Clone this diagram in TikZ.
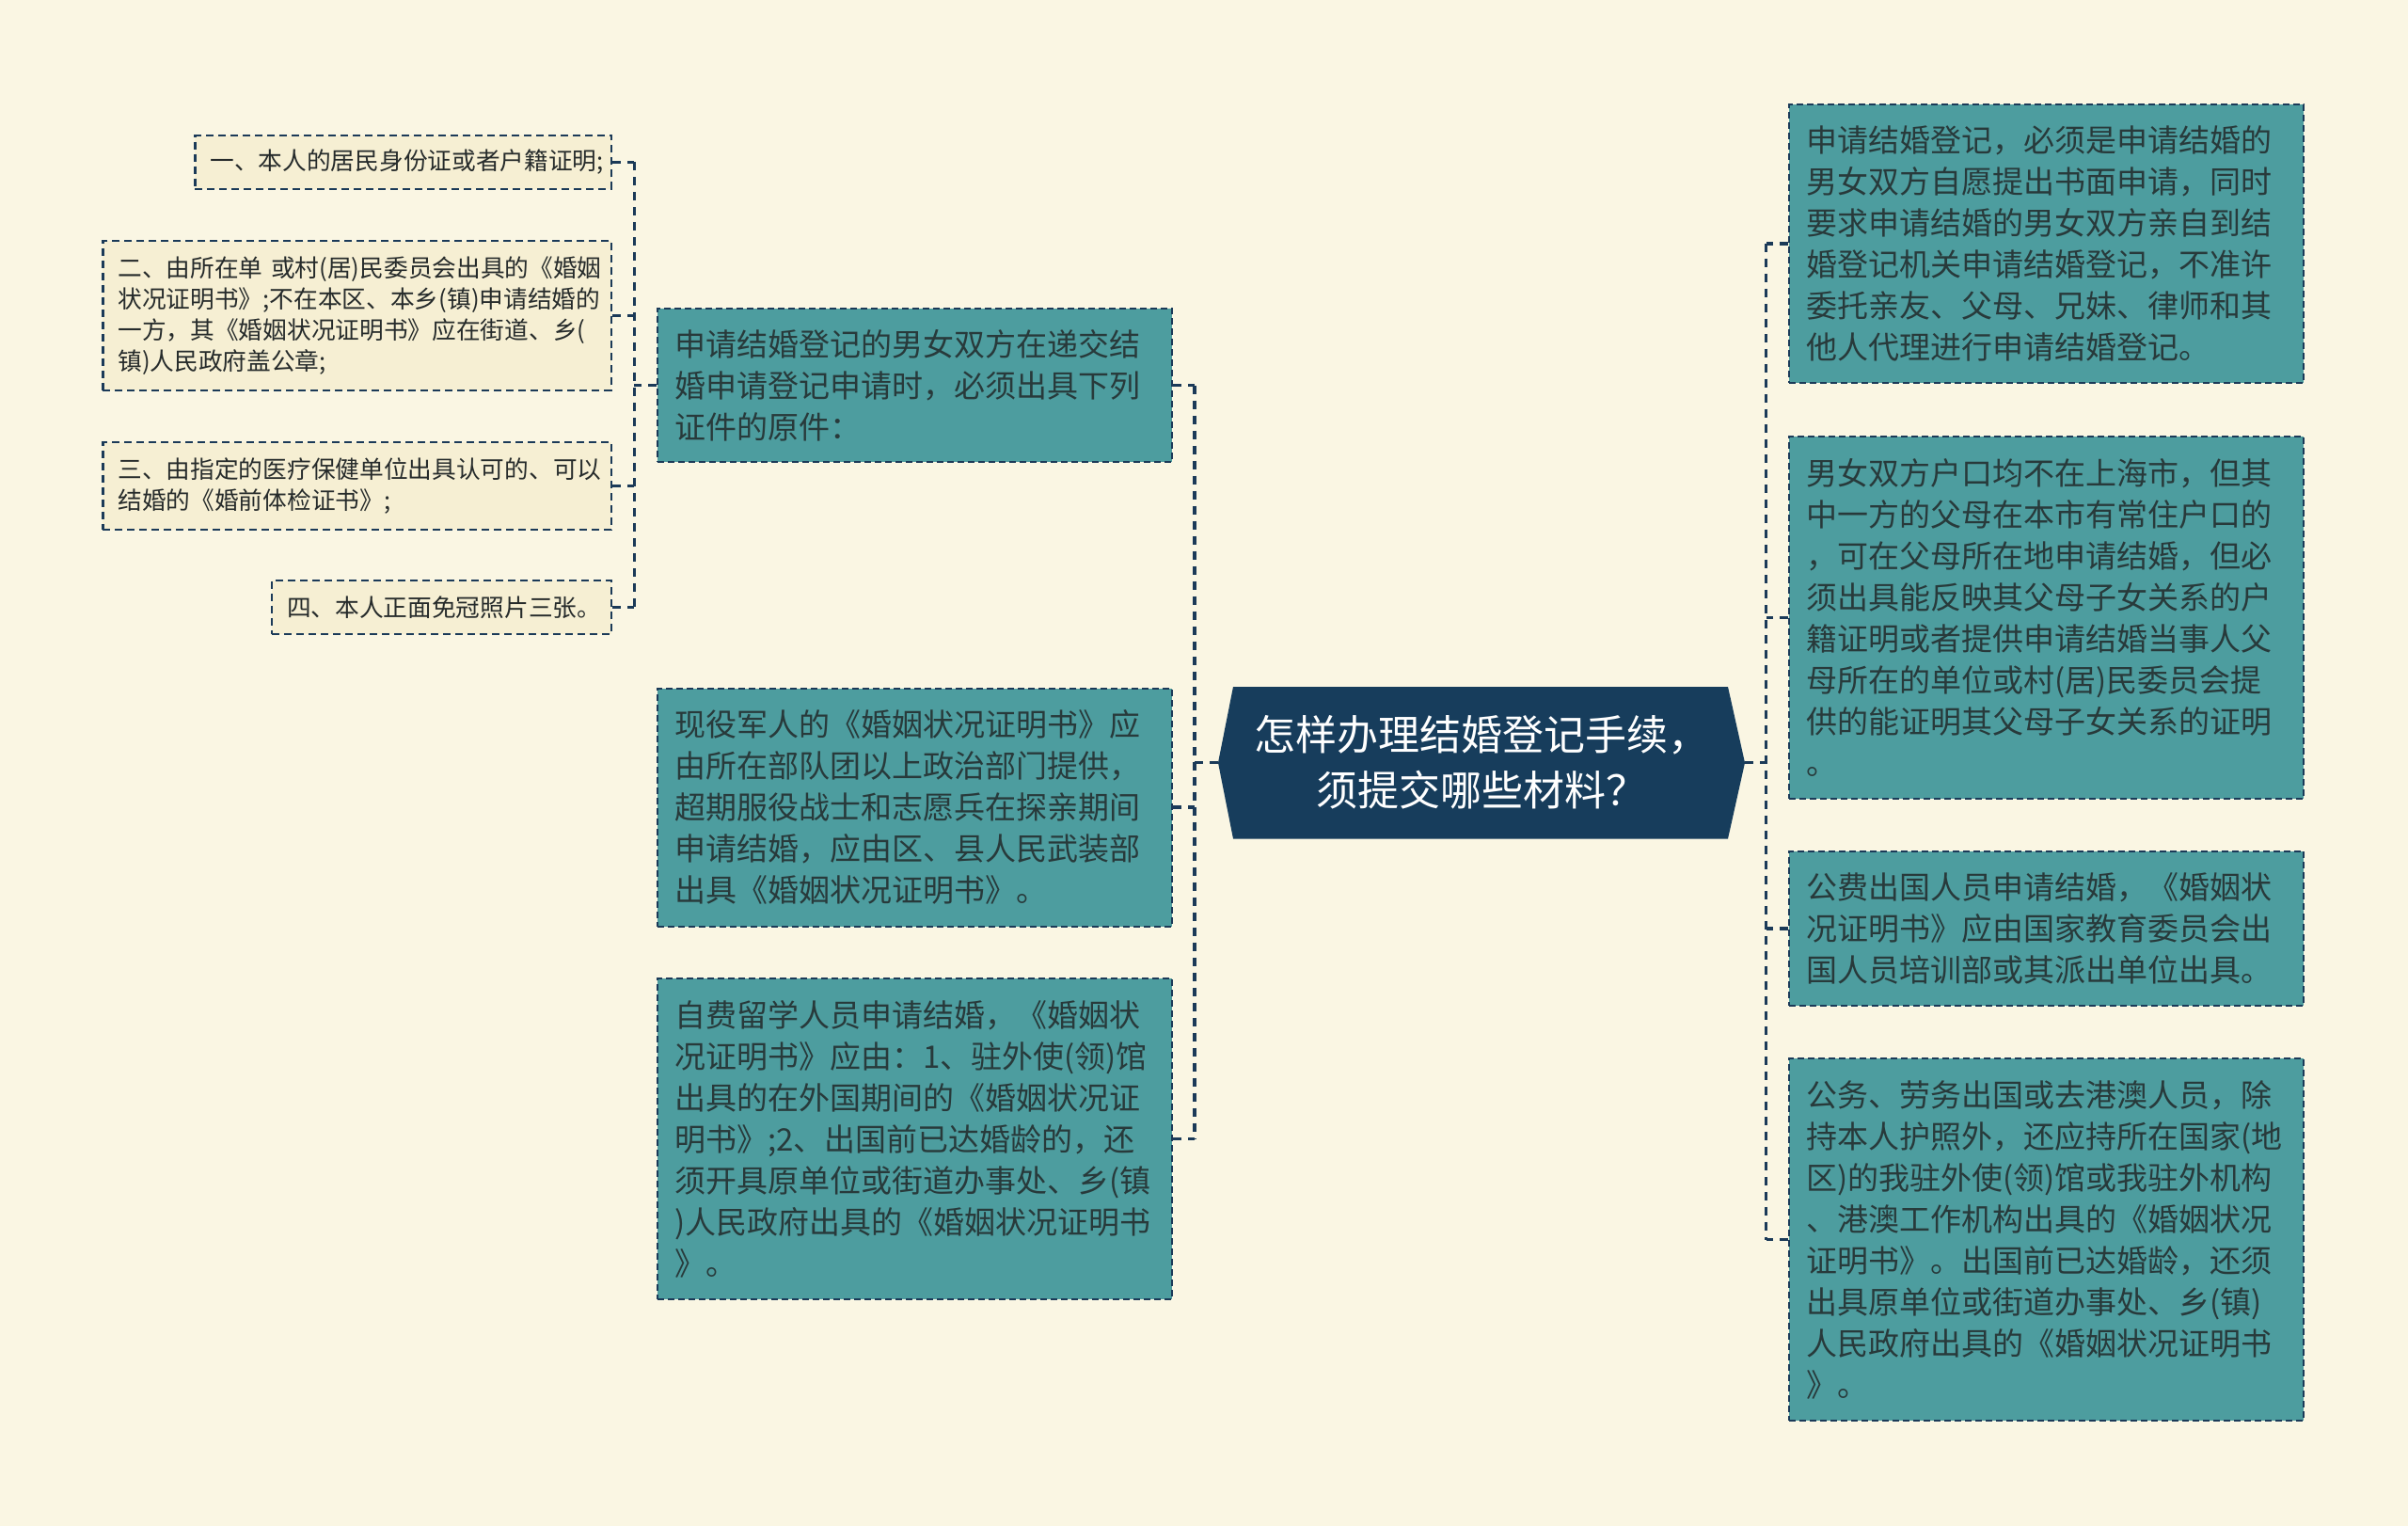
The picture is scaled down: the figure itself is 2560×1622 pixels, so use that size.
\documentclass[tikz,border=0pt]{standalone}
\usepackage{fontspec}
\setmainfont{Noto Sans CJK SC}
\usetikzlibrary{calc}
\definecolor{bgc}{HTML}{FAF6E3}
\definecolor{tealfill}{HTML}{4D9D9F}
\definecolor{tealtext}{HTML}{283A3B}
\definecolor{navyline}{HTML}{1B3A58}
\definecolor{navyfill}{HTML}{173D5C}
\definecolor{subfill}{HTML}{F6EFD3}
\definecolor{subtext}{HTML}{262B2B}
\tikzset{
  tealbox/.style={rectangle, fill=tealfill, draw=navyline, line width=2pt,
    dash pattern=on 7pt off 4pt, text=tealtext, align=left,
    inner xsep=18pt, inner ysep=0pt,
    font=\fontsize{33}{44}\selectfont},
  subbox/.style={rectangle, fill=subfill, draw=navyline, line width=2.4pt,
    dash pattern=on 8pt off 5pt, text=subtext, align=left,
    inner xsep=16pt, inner ysep=0pt,
    font=\fontsize{25.7}{33}\selectfont},
  ctext/.style={rectangle, inner sep=0pt, text=white, align=center,
    font=\fontsize{44}{59}\selectfont},
  conn/.style={draw=navyline, line width=3.4pt, dash pattern=on 9pt off 7pt}
}
\begin{document}
\begin{tikzpicture}[x=1pt,y=-1pt]
\fill[bgc] (0,0) rectangle (2560,1622);
\useasboundingbox (0,0) rectangle (2560,1622);

% central hexagon
\fill[navyfill] (1311,730) -- (1837,730) -- (1855,810.7) -- (1837,891.5)
  -- (1311,891.5) -- (1295,810.7) -- cycle;
\node[ctext, minimum width=560pt, minimum height=161.5pt] (c) at (1575,810.7)
  {怎样办理结婚登记手续，\\须提交哪些材料？};

% left column
\node[tealbox, text width=511pt, minimum height=163pt] (L1) at (972.5,409.5)
  {申请结婚登记的男女双方在递交结\\婚申请登记申请时，必须出具下列\\证件的原件：};
\node[tealbox, text width=511pt, minimum height=253pt] (L2) at (972.5,858)
  {现役军人的《婚姻状况证明书》应\\由所在部队团以上政治部门提供，\\超期服役战士和志愿兵在探亲期间\\申请结婚，应由区、县人民武装部\\出具《婚姻状况证明书》。};
\node[tealbox, text width=511pt, minimum height=341pt] (L3) at (972.5,1210.5)
  {自费留学人员申请结婚，《婚姻状\\况证明书》应由：1、驻外使(领)馆\\出具的在外国期间的《婚姻状况证\\明书》;2、出国前已达婚龄的，还\\须开具原单位或街道办事处、乡(镇\\)人民政府出具的《婚姻状况证明书\\》。};

% right column
\node[tealbox, text width=511pt, minimum height=295.5pt] (R1) at (2175.5,258.8)
  {申请结婚登记，必须是申请结婚的\\男女双方自愿提出书面申请，同时\\要求申请结婚的男女双方亲自到结\\婚登记机关申请结婚登记，不准许\\委托亲友、父母、兄妹、律师和其\\他人代理进行申请结婚登记。};
\node[tealbox, text width=511pt, minimum height=385pt] (R2) at (2175.5,656.3)
  {男女双方户口均不在上海市，但其\\中一方的父母在本市有常住户口的\\，可在父母所在地申请结婚，但必\\须出具能反映其父母子女关系的户\\籍证明或者提供申请结婚当事人父\\母所在的单位或村(居)民委员会提\\供的能证明其父母子女关系的证明\\。};
\node[tealbox, text width=511pt, minimum height=164.5pt] (R3) at (2175.5,986.8)
  {公费出国人员申请结婚，《婚姻状\\况证明书》应由国家教育委员会出\\国人员培训部或其派出单位出具。};
\node[tealbox, text width=511pt, minimum height=385pt] (R4) at (2175.5,1317.5)
  {公务、劳务出国或去港澳人员，除\\持本人护照外，还应持所在国家(地\\区)的我驻外使(领)馆或我驻外机构\\、港澳工作机构出具的《婚姻状况\\证明书》。出国前已达婚龄，还须\\出具原单位或街道办事处、乡(镇)\\人民政府出具的《婚姻状况证明书\\》。};

% sub items
\node[subbox, text width=410.6pt, minimum height=57pt] (S1) at (428.7,172.2)
  {一、本人的居民身份证或者户籍证明;};
\node[subbox, text width=508.6pt, minimum height=158.7pt] (S2) at (379.7,335.4)
  {二、由所在单 或村(居)民委员会出具的《婚姻\\状况证明书》;不在本区、本乡(镇)申请结婚的\\一方，其《婚姻状况证明书》应在街道、乡(\\镇)人民政府盖公章;};
\node[subbox, text width=508.6pt, minimum height=93pt] (S3) at (379.7,516.7)
  {三、由指定的医疗保健单位出具认可的、可以\\结婚的《婚前体检证书》;};
\node[subbox, text width=329pt, minimum height=57pt] (S4) at (469.5,645.7)
  {四、本人正面免冠照片三张。};

% junctions
\coordinate (jl) at (1270,810.7);
\coordinate (jr) at (1877.6,810.7);
\coordinate (js) at (674.3,409.5);

% connectors: center to left
\draw[conn] (c.west) -- (jl);
\draw[conn] (L1.east) -- (L1.east -| jl);
\draw[conn] (L2.east) -- (L2.east -| jl);
\draw[conn] (L3.east) -- (L3.east -| jl);
\draw[conn] (L1.east -| jl) -- (L3.east -| jl);

% center to right
\draw[conn] (c.east) -- (jr);
\draw[conn] (R1.west) -- (R1.west -| jr);
\draw[conn] (R2.west) -- (R2.west -| jr);
\draw[conn] (R3.west) -- (R3.west -| jr);
\draw[conn] (R4.west) -- (R4.west -| jr);
\draw[conn] (R1.west -| jr) -- (R4.west -| jr);

% L1 to sub items
\draw[conn] (L1.west) -- (js);
\draw[conn] (S1.east) -- (S1.east -| js);
\draw[conn] (S2.east) -- (S2.east -| js);
\draw[conn] (S3.east) -- (S3.east -| js);
\draw[conn] (S4.east) -- (S4.east -| js);
\draw[conn] (S1.east -| js) -- (S4.east -| js);
\end{tikzpicture}
\end{document}
